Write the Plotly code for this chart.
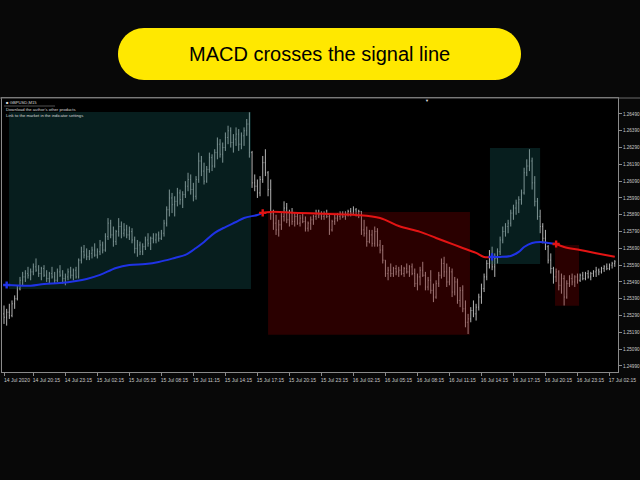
import plotly.graph_objects as go

# GBPUSD M15 bars, 14 Jul 2020 17:15 -> 17 Jul 2020 02:30
bar_open = [
    1.2530, 1.2528, 1.2531, 1.2529, 1.2536, 1.2539, 1.2545, 1.2550, 1.2552, 1.2554,
    1.2553, 1.2555, 1.2558, 1.2556, 1.2554, 1.2557, 1.2553, 1.2551, 1.2554, 1.2552,
    1.2550, 1.2555, 1.2553, 1.2551, 1.2552, 1.2555, 1.2553, 1.2556, 1.2552, 1.2562,
    1.2567, 1.2565, 1.2564, 1.2566, 1.2568, 1.2565, 1.2567, 1.2571, 1.2568, 1.2576,
    1.2584, 1.2577, 1.2573, 1.2579, 1.2582, 1.2578, 1.2580, 1.2577, 1.2579, 1.2574,
    1.2569, 1.2571, 1.2567, 1.2570, 1.2574, 1.2572, 1.2575, 1.2574, 1.2577, 1.2575,
    1.2578, 1.2584, 1.2592, 1.2599, 1.2595, 1.2597, 1.2602, 1.2598, 1.2601, 1.2606,
    1.2610, 1.2604, 1.2600, 1.2610, 1.2621, 1.2615, 1.2609, 1.2616, 1.2623, 1.2618,
    1.2626, 1.2631, 1.2625, 1.2629, 1.2635, 1.2639, 1.2632, 1.2634, 1.2637, 1.2631,
    1.2636, 1.2639, 1.2643, 1.2626, 1.2608, 1.2606, 1.2602, 1.2610, 1.2620, 1.2614,
    1.2604, 1.2590, 1.2584, 1.2580, 1.2583, 1.2588, 1.2593, 1.2586, 1.2590, 1.2585,
    1.2588, 1.2584, 1.2587, 1.2585, 1.2581, 1.2584, 1.2586, 1.2588, 1.2590, 1.2589,
    1.2588, 1.2590, 1.2588, 1.2580, 1.2585, 1.2587, 1.2588, 1.2590, 1.2588, 1.2590,
    1.2591, 1.2590, 1.2592, 1.2589, 1.2591, 1.2580, 1.2578, 1.2573, 1.2577, 1.2572,
    1.2579, 1.2571, 1.2568, 1.2562, 1.2554, 1.2556, 1.2554, 1.2557, 1.2555, 1.2556,
    1.2554, 1.2557, 1.2555, 1.2558, 1.2554, 1.2548, 1.2552, 1.2556, 1.2553, 1.2546,
    1.2550, 1.2544, 1.2540, 1.2548, 1.2553, 1.2560, 1.2555, 1.2549, 1.2555, 1.2543,
    1.2549, 1.2538, 1.2544, 1.2533, 1.2525, 1.2527, 1.2532, 1.2530, 1.2534, 1.2540,
    1.2545, 1.2552, 1.2560, 1.2564, 1.2558, 1.2563, 1.2567, 1.2574, 1.2579, 1.2582,
    1.2584, 1.2590, 1.2593, 1.2596, 1.2598, 1.2602, 1.2614, 1.2618, 1.2621, 1.2608,
    1.2597, 1.2588, 1.2582, 1.2575, 1.2570, 1.2562, 1.2557, 1.2552, 1.2555, 1.2547,
    1.2551, 1.2540, 1.2548, 1.2551, 1.2549, 1.2552, 1.2550, 1.2553, 1.2551, 1.2554,
    1.2552, 1.2554, 1.2555, 1.2556, 1.2555, 1.2557, 1.2558, 1.2557, 1.2559, 1.2560,
]
bar_high = [
    1.2535, 1.2533, 1.2536, 1.2538, 1.2541, 1.2547, 1.2552, 1.2555, 1.2556, 1.2558,
    1.2557, 1.2560, 1.2563, 1.2559, 1.2558, 1.2559, 1.2556, 1.2555, 1.2558, 1.2555,
    1.2557, 1.2559, 1.2556, 1.2554, 1.2557, 1.2558, 1.2557, 1.2558, 1.2563, 1.2570,
    1.2571, 1.2569, 1.2568, 1.2570, 1.2572, 1.2569, 1.2574, 1.2573, 1.2578, 1.2587,
    1.2586, 1.2582, 1.2580, 1.2587, 1.2585, 1.2584, 1.2583, 1.2582, 1.2581, 1.2576,
    1.2574, 1.2573, 1.2572, 1.2576, 1.2578, 1.2576, 1.2578, 1.2578, 1.2579, 1.2580,
    1.2586, 1.2594, 1.2604, 1.2602, 1.2600, 1.2605, 1.2604, 1.2603, 1.2609, 1.2614,
    1.2613, 1.2608, 1.2612, 1.2626, 1.2624, 1.2620, 1.2618, 1.2626, 1.2625, 1.2628,
    1.2635, 1.2634, 1.2632, 1.2638, 1.2642, 1.2641, 1.2637, 1.2641, 1.2640, 1.2638,
    1.2641, 1.2646, 1.2650, 1.2627, 1.2613, 1.2610, 1.2612, 1.2624, 1.2628, 1.2615,
    1.2610, 1.2592, 1.2589, 1.2586, 1.2590, 1.2597, 1.2596, 1.2592, 1.2593, 1.2590,
    1.2590, 1.2589, 1.2590, 1.2588, 1.2585, 1.2588, 1.2589, 1.2592, 1.2592, 1.2591,
    1.2591, 1.2592, 1.2589, 1.2586, 1.2589, 1.2590, 1.2591, 1.2591, 1.2591, 1.2592,
    1.2593, 1.2594, 1.2593, 1.2592, 1.2591, 1.2586, 1.2582, 1.2580, 1.2580, 1.2582,
    1.2581, 1.2574, 1.2571, 1.2562, 1.2558, 1.2560, 1.2558, 1.2559, 1.2558, 1.2559,
    1.2558, 1.2560, 1.2559, 1.2560, 1.2557, 1.2554, 1.2558, 1.2561, 1.2555, 1.2552,
    1.2556, 1.2548, 1.2550, 1.2555, 1.2563, 1.2564, 1.2560, 1.2558, 1.2557, 1.2552,
    1.2551, 1.2546, 1.2547, 1.2538, 1.2530, 1.2534, 1.2538, 1.2536, 1.2542, 1.2548,
    1.2554, 1.2562, 1.2568, 1.2570, 1.2566, 1.2569, 1.2576, 1.2582, 1.2584, 1.2586,
    1.2592, 1.2595, 1.2598, 1.2600, 1.2604, 1.2617, 1.2622, 1.2628, 1.2623, 1.2612,
    1.2599, 1.2592, 1.2584, 1.2580, 1.2571, 1.2566, 1.2558, 1.2557, 1.2556, 1.2554,
    1.2553, 1.2550, 1.2553, 1.2554, 1.2553, 1.2554, 1.2554, 1.2555, 1.2555, 1.2556,
    1.2555, 1.2556, 1.2558, 1.2557, 1.2558, 1.2559, 1.2560, 1.2560, 1.2561, 1.2562,
]
bar_low = [
    1.2524, 1.2523, 1.2527, 1.2528, 1.2533, 1.2538, 1.2544, 1.2547, 1.2549, 1.2551,
    1.2550, 1.2553, 1.2555, 1.2552, 1.2550, 1.2552, 1.2549, 1.2548, 1.2551, 1.2548,
    1.2549, 1.2552, 1.2548, 1.2547, 1.2550, 1.2551, 1.2550, 1.2551, 1.2551, 1.2560,
    1.2563, 1.2562, 1.2562, 1.2563, 1.2564, 1.2563, 1.2565, 1.2566, 1.2567, 1.2574,
    1.2575, 1.2570, 1.2571, 1.2576, 1.2575, 1.2576, 1.2575, 1.2574, 1.2572, 1.2566,
    1.2564, 1.2565, 1.2565, 1.2568, 1.2570, 1.2568, 1.2572, 1.2572, 1.2573, 1.2574,
    1.2576, 1.2582, 1.2588, 1.2590, 1.2588, 1.2594, 1.2595, 1.2593, 1.2599, 1.2603,
    1.2601, 1.2597, 1.2598, 1.2608, 1.2612, 1.2607, 1.2608, 1.2614, 1.2615, 1.2617,
    1.2622, 1.2623, 1.2620, 1.2627, 1.2631, 1.2629, 1.2626, 1.2630, 1.2627, 1.2628,
    1.2630, 1.2636, 1.2623, 1.2605, 1.2603, 1.2599, 1.2600, 1.2608, 1.2612, 1.2600,
    1.2586, 1.2580, 1.2577, 1.2576, 1.2580, 1.2585, 1.2584, 1.2582, 1.2583, 1.2582,
    1.2583, 1.2582, 1.2584, 1.2579, 1.2579, 1.2580, 1.2583, 1.2586, 1.2587, 1.2586,
    1.2586, 1.2587, 1.2577, 1.2579, 1.2583, 1.2585, 1.2586, 1.2587, 1.2586, 1.2588,
    1.2588, 1.2589, 1.2588, 1.2587, 1.2577, 1.2576, 1.2570, 1.2572, 1.2570, 1.2570,
    1.2570, 1.2566, 1.2560, 1.2552, 1.2550, 1.2552, 1.2552, 1.2553, 1.2552, 1.2553,
    1.2552, 1.2554, 1.2552, 1.2553, 1.2546, 1.2544, 1.2547, 1.2552, 1.2544, 1.2544,
    1.2542, 1.2537, 1.2539, 1.2546, 1.2551, 1.2552, 1.2546, 1.2547, 1.2540, 1.2541,
    1.2536, 1.2534, 1.2531, 1.2522, 1.2518, 1.2525, 1.2528, 1.2526, 1.2532, 1.2536,
    1.2543, 1.2550, 1.2557, 1.2556, 1.2552, 1.2560, 1.2565, 1.2572, 1.2576, 1.2578,
    1.2582, 1.2586, 1.2589, 1.2590, 1.2595, 1.2601, 1.2612, 1.2615, 1.2604, 1.2594,
    1.2586, 1.2578, 1.2572, 1.2568, 1.2560, 1.2554, 1.2548, 1.2549, 1.2544, 1.2542,
    1.2535, 1.2539, 1.2546, 1.2547, 1.2546, 1.2548, 1.2549, 1.2550, 1.2550, 1.2551,
    1.2550, 1.2552, 1.2552, 1.2553, 1.2554, 1.2555, 1.2556, 1.2556, 1.2557, 1.2558,
]
bar_close = [
    1.2528, 1.2531, 1.2529, 1.2536, 1.2539, 1.2545, 1.2550, 1.2552, 1.2554, 1.2553,
    1.2555, 1.2558, 1.2556, 1.2554, 1.2557, 1.2553, 1.2551, 1.2554, 1.2552, 1.2550,
    1.2555, 1.2553, 1.2551, 1.2552, 1.2555, 1.2553, 1.2556, 1.2552, 1.2562, 1.2567,
    1.2565, 1.2564, 1.2566, 1.2568, 1.2565, 1.2567, 1.2571, 1.2568, 1.2576, 1.2584,
    1.2577, 1.2573, 1.2579, 1.2582, 1.2578, 1.2580, 1.2577, 1.2579, 1.2574, 1.2569,
    1.2571, 1.2567, 1.2570, 1.2574, 1.2572, 1.2575, 1.2574, 1.2577, 1.2575, 1.2578,
    1.2584, 1.2592, 1.2599, 1.2595, 1.2597, 1.2602, 1.2598, 1.2601, 1.2606, 1.2610,
    1.2604, 1.2600, 1.2610, 1.2621, 1.2615, 1.2609, 1.2616, 1.2623, 1.2618, 1.2626,
    1.2631, 1.2625, 1.2629, 1.2635, 1.2639, 1.2632, 1.2634, 1.2637, 1.2631, 1.2636,
    1.2639, 1.2643, 1.2626, 1.2608, 1.2606, 1.2602, 1.2610, 1.2620, 1.2614, 1.2604,
    1.2590, 1.2584, 1.2580, 1.2583, 1.2588, 1.2593, 1.2586, 1.2590, 1.2585, 1.2588,
    1.2584, 1.2587, 1.2585, 1.2581, 1.2584, 1.2586, 1.2588, 1.2590, 1.2589, 1.2588,
    1.2590, 1.2588, 1.2580, 1.2585, 1.2587, 1.2588, 1.2590, 1.2588, 1.2590, 1.2591,
    1.2590, 1.2592, 1.2589, 1.2591, 1.2580, 1.2578, 1.2573, 1.2577, 1.2572, 1.2579,
    1.2571, 1.2568, 1.2562, 1.2554, 1.2556, 1.2554, 1.2557, 1.2555, 1.2556, 1.2554,
    1.2557, 1.2555, 1.2558, 1.2554, 1.2548, 1.2552, 1.2556, 1.2553, 1.2546, 1.2550,
    1.2544, 1.2540, 1.2548, 1.2553, 1.2560, 1.2555, 1.2549, 1.2555, 1.2543, 1.2549,
    1.2538, 1.2544, 1.2533, 1.2525, 1.2527, 1.2532, 1.2530, 1.2534, 1.2540, 1.2545,
    1.2552, 1.2560, 1.2564, 1.2558, 1.2563, 1.2567, 1.2574, 1.2579, 1.2582, 1.2584,
    1.2590, 1.2593, 1.2596, 1.2598, 1.2602, 1.2614, 1.2618, 1.2621, 1.2608, 1.2597,
    1.2588, 1.2582, 1.2575, 1.2570, 1.2562, 1.2557, 1.2552, 1.2555, 1.2547, 1.2551,
    1.2540, 1.2548, 1.2551, 1.2549, 1.2552, 1.2550, 1.2553, 1.2551, 1.2554, 1.2552,
    1.2554, 1.2555, 1.2556, 1.2555, 1.2557, 1.2558, 1.2557, 1.2559, 1.2560, 1.2561,
]

# moving average the indicator colours (bar index, value)
ma_bar = [1, 10, 15, 21, 27, 31, 36, 42, 47, 53, 58, 64, 68, 72, 75, 79, 83, 87, 90,
          95, 97, 100, 111, 122, 132, 141, 148, 156, 162, 165, 171, 177, 180, 183,
          186, 190, 193, 195, 198, 201, 204, 207, 210, 216, 222, 229]
ma_value = [1.25472, 1.25468, 1.25478, 1.25484, 1.25496, 1.25508, 1.25532, 1.25573,
            1.25591, 1.25597, 1.25609, 1.25633, 1.25651, 1.25692, 1.25728, 1.25782,
            1.25817, 1.25847, 1.25871, 1.25889, 1.25901, 1.25907, 1.25901, 1.25895,
            1.25889, 1.25871, 1.25823, 1.25788, 1.25752, 1.25734, 1.25698, 1.25663,
            1.25639, 1.25639, 1.25639, 1.25645, 1.25669, 1.25698, 1.25722, 1.25728,
            1.25722, 1.25716, 1.25698, 1.25680, 1.25661, 1.25640]

# MACD / signal crosses
cross_bar = [1, 97, 183, 207]
cross_side = ["buy", "sell", "buy", "sell"]

# highlighted zones after each cross
zone_start = [1.9, 99.0, 182.2, 206.6]
zone_end = [92.6, 174.7, 201.0, 215.6]
zone_top = [1.26502, 1.25907, 1.26287, 1.25710]
zone_bottom = [1.25448, 1.25175, 1.25597, 1.25349]
zone_side = ["buy", "sell", "buy", "sell"]

price_ticks = [1.26490, 1.26390, 1.26290, 1.26190, 1.26090, 1.25990, 1.25890, 1.25790,
               1.25690, 1.25590, 1.25490, 1.25390, 1.25290, 1.25190, 1.25090, 1.24990]
time_tick_bars = [0, 11, 23, 35, 47, 59, 71, 83, 95, 107, 119, 131, 143, 155, 167, 179,
                  191, 203, 215, 227]
time_tick_labels = ["14 Jul 2020", "14 Jul 20:15", "14 Jul 23:15", "15 Jul 02:15",
                    "15 Jul 05:15", "15 Jul 08:15", "15 Jul 11:15", "15 Jul 14:15",
                    "15 Jul 17:15", "15 Jul 20:15", "15 Jul 23:15", "16 Jul 02:15",
                    "16 Jul 05:15", "16 Jul 08:15", "16 Jul 11:15", "16 Jul 14:15",
                    "16 Jul 17:15", "16 Jul 20:15", "16 Jul 23:15", "17 Jul 02:15"]

LINE_COL = {"buy": "#1f33e6", "sell": "#e31414"}
ZONE_COL = {"buy": "rgba(20,85,85,0.35)", "sell": "rgba(120,0,0,0.35)"}
FONT = "Liberation Sans"

bars = list(range(len(bar_close)))

fig = go.Figure()

fig.add_trace(go.Ohlc(
    x=bars, open=bar_open, high=bar_high, low=bar_low, close=bar_close,
    increasing_line_color="#b4b4b4", decreasing_line_color="#b4b4b4",
    line_width=1, tickwidth=0.25, hoverinfo="skip", showlegend=False,
))

# zones go over the bars (tinting them) but under the MA line
for s, e, t, b, side in zip(zone_start, zone_end, zone_top, zone_bottom, zone_side):
    fig.add_trace(go.Scatter(
        x=[s, e, e, s, s], y=[b, b, t, t, b], mode="lines", fill="toself",
        fillcolor=ZONE_COL[side], line_width=0, hoverinfo="skip", showlegend=False,
    ))

# MA split into coloured pieces at every cross
edges = cross_bar + [ma_bar[-1]]
for k, side in enumerate(cross_side):
    lo, hi = edges[k], edges[k + 1]
    xs = [b for b in ma_bar if lo <= b <= hi]
    ys = [v for b, v in zip(ma_bar, ma_value) if lo <= b <= hi]
    fig.add_trace(go.Scatter(
        x=xs, y=ys, mode="lines", line=dict(color=LINE_COL[side], width=2, shape="spline"),
        hoverinfo="skip", showlegend=False,
    ))

cross_val = [ma_value[ma_bar.index(b)] for b in cross_bar]
fig.add_trace(go.Scatter(
    x=cross_bar, y=cross_val, mode="markers",
    marker=dict(symbol="cross", size=6, color=[LINE_COL[s] for s in cross_side]),
    hoverinfo="skip", showlegend=False,
))

# title pill
pill = ("M -175.5,-26 L 175.5,-26 C 189.86,-26 201.5,-14.36 201.5,0 "
        "C 201.5,14.36 189.86,26 175.5,26 L -175.5,26 C -189.86,26 -201.5,14.36 -201.5,0 "
        "C -201.5,-14.36 -189.86,-26 -175.5,-26 Z")
fig.add_shape(type="path", path=pill, xref="paper", yref="paper",
              xsizemode="pixel", ysizemode="pixel", xanchor=319.5 / 640, yanchor=1 - 54 / 480,
              fillcolor="#ffe800", line_width=0, layer="above")
fig.add_annotation(text="MACD crosses the signal line", x=319.5 / 640, y=1 - 54 / 480,
                   xref="paper", yref="paper", xanchor="center", yanchor="middle",
                   showarrow=False, font=dict(family=FONT, size=20, color="#000000"))

# window top border
fig.add_shape(type="line", xref="paper", yref="paper", x0=0, x1=1,
              y0=1 - 98 / 480, y1=1 - 98 / 480, line=dict(color="#6a6a6a", width=1))
fig.add_annotation(text="▼", x=427 / 640, y=1 - 100 / 480, xref="paper", yref="paper",
                   xanchor="center", yanchor="middle", showarrow=False,
                   font=dict(size=4, color="#e0e0e0"))

# chart header texts
header = [("■ GBPUSD,M15", 102), ("Download the author's other products", 110),
          ("Link to the market in the indicator settings", 115)]
for txt, ypx in header:
    fig.add_annotation(text=txt, x=4 / 640, y=1 - ypx / 480, xref="paper", yref="paper",
                       xanchor="left", yanchor="middle", showarrow=False,
                       font=dict(family=FONT, size=4.2, color="#d8d8d8"))
fig.add_shape(type="line", xref="paper", yref="paper", x0=4 / 640, x1=55 / 640,
              y0=1 - 106 / 480, y1=1 - 106 / 480, line=dict(color="#505050", width=1))

fig.update_layout(
    width=640, height=480, margin=dict(l=0, r=0, t=0, b=0, autoexpand=False),
    paper_bgcolor="#080808", plot_bgcolor="#000000",
    xaxis=dict(
        domain=[2 / 640, 618 / 640], range=[-0.75, 230.2], automargin=False,
        rangeslider_visible=False, showgrid=False, zeroline=False,
        showline=True, mirror=True, linecolor="#8a8a8a", linewidth=1,
        tickmode="array", tickvals=time_tick_bars, ticktext=time_tick_labels,
        tickangle=0, ticks="outside", ticklen=3, tickcolor="#8a8a8a", ticklabelshift=13,
        tickfont=dict(family=FONT, size=5, color="#c8c8c8"),
    ),
    yaxis=dict(
        domain=[108 / 480, 382 / 480], range=[1.24954, 1.26585], side="right",
        automargin=False, showgrid=False, zeroline=False,
        showline=True, mirror=True, linecolor="#8a8a8a", linewidth=1,
        tickmode="array", tickvals=price_ticks,
        ticktext=[f"{v:.5f}" for v in price_ticks],
        ticks="outside", ticklen=3, tickcolor="#8a8a8a",
        tickfont=dict(family=FONT, size=4.6, color="#c8c8c8"),
    ),
)

fig.write_html("out.html", config={"displayModeBar": False},
               post_script="document.body.style.margin = '0';")
